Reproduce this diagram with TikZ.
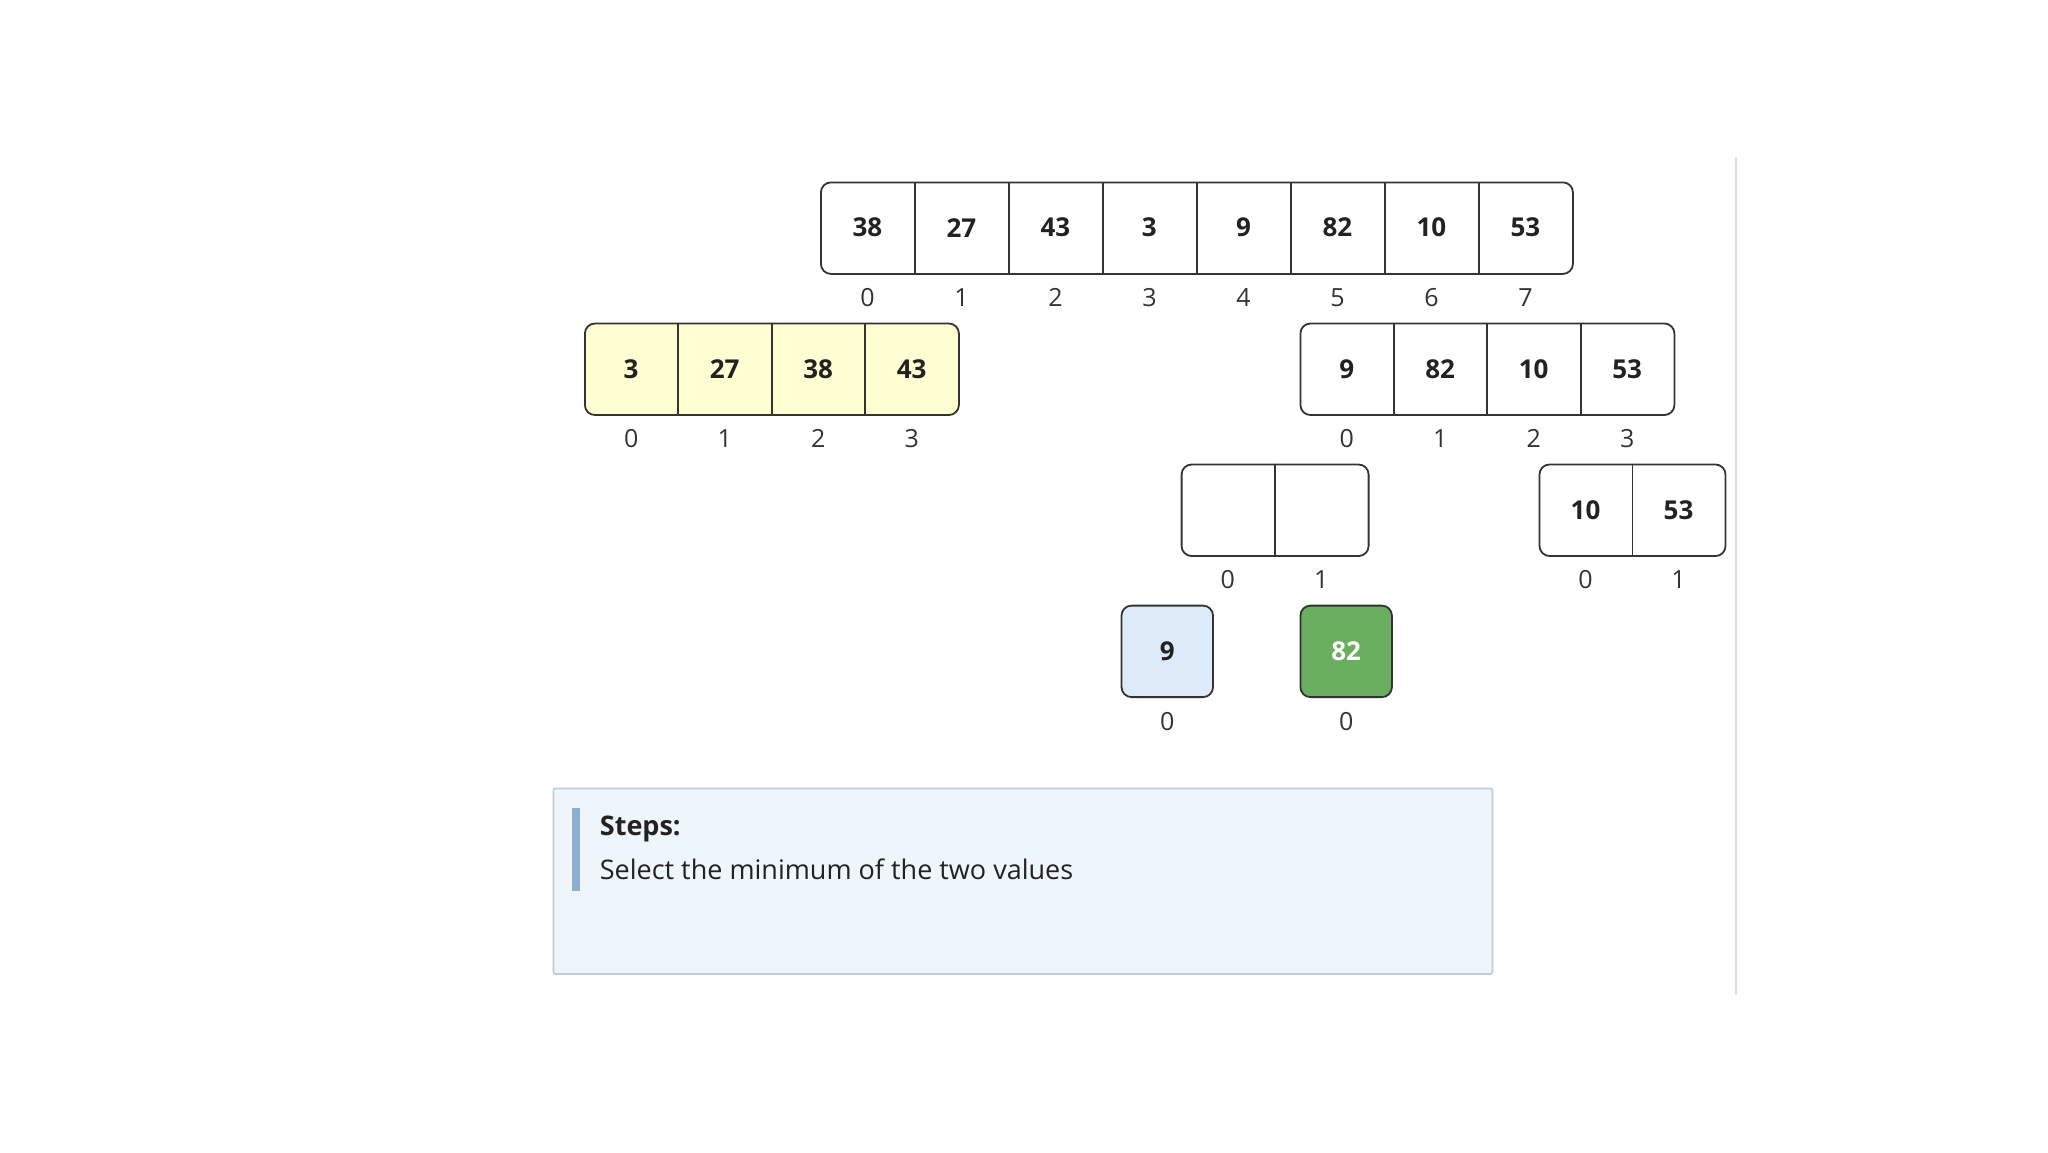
\documentclass[tikz,border=0pt]{standalone}
\usepackage{fontspec}
\setmainfont{Open Sans}
\usetikzlibrary{calc}
\definecolor{edge}{HTML}{333333}
\definecolor{yel}{HTML}{FFFDD2}
\definecolor{lblue}{HTML}{DDEAF7}
\definecolor{grn}{HTML}{6AAE5F}
\definecolor{boxfill}{HTML}{EEF5FB}
\definecolor{boxedge}{HTML}{C3CBD3}
\definecolor{barc}{HTML}{8EADCF}
\definecolor{txt}{HTML}{222222}
\tikzset{
  frame/.style={draw=edge, line width=0.9pt, rounded corners=5pt, inner sep=0pt, minimum height=45.75pt},
  cell/.style={inner sep=0pt, minimum width=46.75pt, minimum height=45.75pt, anchor=north west, font=\fontsize{13}{15}\selectfont\bfseries, text=txt},
  idx/.style={inner sep=0pt, font=\fontsize{12.5}{14}\selectfont, text=edge},
  divider/.style={draw=edge, line width=0.9pt},
}
\begin{document}
\begin{tikzpicture}[x=0.5pt, y=-0.5pt]
\useasboundingbox (0,0) rectangle (2048,1152);
\fill[white] (0,0) rectangle (2048,1152);
% separator line
\coordinate (sepT) at (1735.7,157);
\coordinate (sepB) at (1735.7,995);
\draw[draw=black!13, line width=1pt] (sepT) -- (sepB);

% top array
\node[frame, fill=white, minimum width=376pt, anchor=north west] (A) at (820,181.5) {};
\foreach \v [count=\i from 0] in {38,27,43,3,9,82,10,53} {
  \node[cell, minimum width=47pt] (A-\i) at ($(A.north west)+(\i*94,0)$) {\v};
  \node[idx] (Ai-\i) at ($(A-\i.south)+(0,23.5)$) {\i};
}
\foreach \i in {0,...,6} \draw[divider] (A-\i.north east) -- (A-\i.south east);

% left sorted array
\node[frame, fill=yel, minimum width=187pt, anchor=north west] (B) at (584,322.6) {};
\foreach \v [count=\i from 0] in {3,27,38,43} {
  \node[cell] (B-\i) at ($(B.north west)+(\i*93.5,0)$) {\v};
  \node[idx] (Bi-\i) at ($(B-\i.south)+(0,23.5)$) {\i};
}
\foreach \i in {0,...,2} \draw[divider] (B-\i.north east) -- (B-\i.south east);

% right array
\node[frame, fill=white, minimum width=187pt, anchor=north west] (C) at (1299.5,322.6) {};
\foreach \v [count=\i from 0] in {9,82,10,53} {
  \node[cell] (C-\i) at ($(C.north west)+(\i*93.5,0)$) {\v};
  \node[idx] (Ci-\i) at ($(C-\i.south)+(0,23.5)$) {\i};
}
\foreach \i in {0,...,2} \draw[divider] (C-\i.north east) -- (C-\i.south east);

% empty merge array
\node[frame, fill=white, minimum width=93.5pt, anchor=north west] (D) at (1180.7,463.6) {};
\foreach \i in {0,1} {
  \node[cell] (D-\i) at ($(D.north west)+(\i*93.5,0)$) {};
  \node[idx] (Di-\i) at ($(D-\i.south)+(0,23.5)$) {\i};
}
\draw[divider] (D-0.north east) -- (D-0.south east);

% 10 53 array
\node[frame, fill=white, minimum width=93pt, anchor=north west] (E) at (1538.6,463.6) {};
\foreach \v [count=\i from 0] in {10,53} {
  \node[cell, minimum width=46.5pt] (E-\i) at ($(E.north west)+(\i*93,0)$) {\v};
  \node[idx] (Ei-\i) at ($(E-\i.south)+(0,23.5)$) {\i};
}
\draw[divider] (E-0.north east) -- (E-0.south east);

% singles
\node[frame, fill=lblue, minimum width=45.75pt, anchor=north west] (F) at (1120.6,604.7) {};
\node[cell, anchor=center] (F-0) at (F.center) {9};
\node[idx] (Fi-0) at ($(F.south)+(0,23.5)$) {0};

\node[frame, fill=grn, minimum width=45.75pt, anchor=north west] (G) at (1299.5,604.7) {};
\node[cell, anchor=center, text=white] (G-0) at (G.center) {82};
\node[idx] (Gi-0) at ($(G.south)+(0,23.5)$) {0};

% steps box
\node[draw=boxedge, fill=boxfill, line width=0.9pt, rounded corners=1pt, minimum width=469.5pt, minimum height=92.75pt, anchor=north west, inner sep=0pt] (S) at (552.5,787.5) {};
\node[fill=barc, inner sep=0pt, minimum width=4pt, minimum height=41.5pt, anchor=north west] (bar) at (572,808) {};
\node[anchor=west, inner sep=0pt, font=\fontsize{13.5}{15}\selectfont\bfseries, text=txt] (st) at (599.5,829) {Steps:};
\node[anchor=west, inner sep=0pt, font=\fontsize{13.5}{15}\selectfont, text=txt] (sel) at (599.5,869.5) {Select the minimum of the two values};
\end{tikzpicture}
\end{document}
